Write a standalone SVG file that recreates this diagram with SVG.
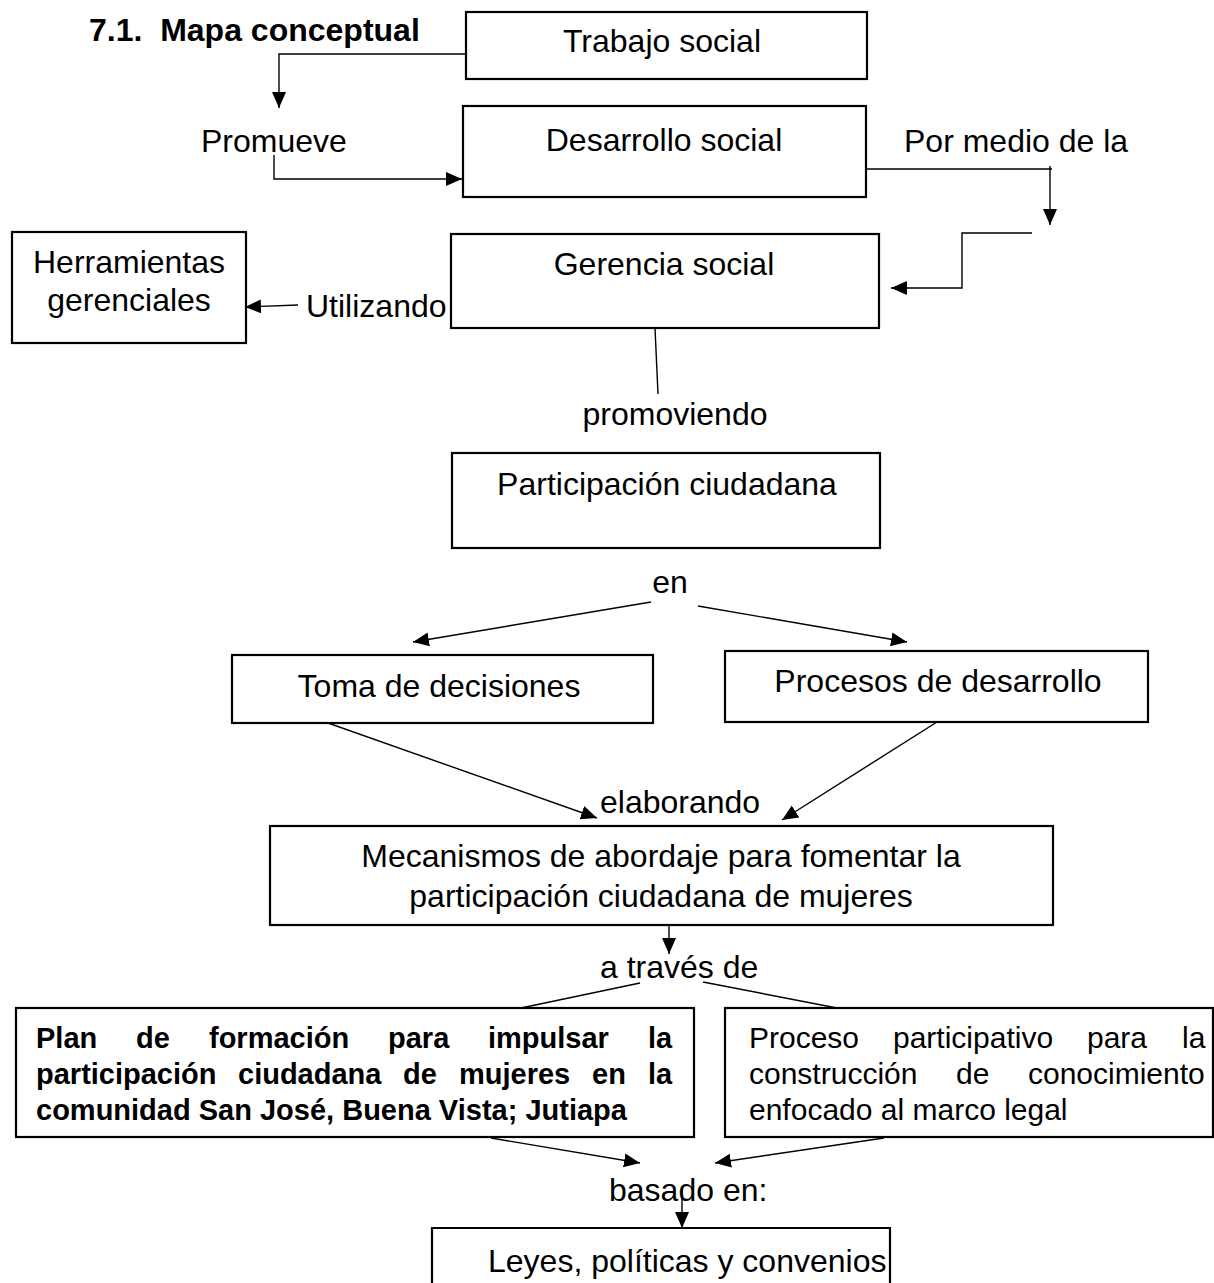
<svg xmlns="http://www.w3.org/2000/svg" width="1214" height="1283" viewBox="0 0 1214 1283">
<defs>
<style>
text{font-family:"Liberation Sans",Arial,sans-serif;fill:#000}
.t{font-size:32px}
.c{text-anchor:middle}
.b{font-weight:bold}
.s{font-size:29px}
.box{fill:#fff;stroke:#000;stroke-width:2.2}
.ln{fill:none;stroke:#000;stroke-width:1.4}
</style>
<marker id="ah" markerUnits="userSpaceOnUse" markerWidth="17" markerHeight="16" refX="16" refY="7" orient="auto">
<path d="M0,0 L16,7 L0,14 z" fill="#000"/>
</marker>
</defs>
<rect width="1214" height="1283" fill="#fff"/>
<text id="title" class="t b" x="89" y="41" xml:space="preserve">7.1.  Mapa conceptual</text>

<g id="trabajo"><rect class="box" x="466" y="12" width="401" height="67"/><text class="t c" x="662" y="52">Trabajo social</text></g>
<g id="desarrollo"><rect class="box" x="463" y="106" width="403" height="91"/><text class="t c" x="664" y="151">Desarrollo social</text></g>
<g id="gerencia"><rect class="box" x="451" y="234" width="428" height="94"/><text class="t c" x="664" y="275">Gerencia social</text></g>
<g id="herramientas"><rect class="box" x="12" y="232" width="234" height="111"/><text class="t c" x="129" y="273">Herramientas</text><text class="t c" x="129" y="311">gerenciales</text></g>
<g id="participacion"><rect class="box" x="452" y="453" width="428" height="95"/><text class="t c" x="667" y="495">Participación ciudadana</text></g>
<g id="toma"><rect class="box" x="232" y="655" width="421" height="68"/><text class="t c" x="439" y="697">Toma de decisiones</text></g>
<g id="procesos"><rect class="box" x="725" y="651" width="423" height="71"/><text class="t c" x="938" y="692">Procesos de desarrollo</text></g>
<g id="mecanismos"><rect class="box" x="270" y="826" width="783" height="99"/><text class="t c" x="661" y="867">Mecanismos de abordaje para fomentar la</text><text class="t c" x="661" y="907">participación ciudadana de mujeres</text></g>
<g id="plan"><rect class="box" x="16" y="1008" width="678" height="129"/>
<text class="s b" y="1048"><tspan x="36">Plan</tspan><tspan x="136">de</tspan><tspan x="209">formación</tspan><tspan x="388">para</tspan><tspan x="488">impulsar</tspan><tspan x="648">la</tspan></text>
<text class="s b" y="1084"><tspan x="36">participación</tspan><tspan x="238">ciudadana</tspan><tspan x="403">de</tspan><tspan x="459">mujeres</tspan><tspan x="592">en</tspan><tspan x="648">la</tspan></text>
<text class="s b" x="36" y="1120">comunidad San José, Buena Vista; Jutiapa</text></g>
<g id="proceso"><rect class="box" x="725" y="1008" width="488" height="129"/>
<text class="s" style="font-size:30px" y="1048"><tspan x="749">Proceso</tspan><tspan x="893">participativo</tspan><tspan x="1087">para</tspan><tspan x="1182">la</tspan></text>
<text class="s" style="font-size:30px" y="1084"><tspan x="749">construcción</tspan><tspan x="956">de</tspan><tspan x="1028">conocimiento</tspan></text>
<text class="s" style="font-size:30px" x="749" y="1120">enfocado al marco legal</text></g>
<g id="leyes"><path class="box" d="M432,1283 V1228 H890 V1283"/><text class="t" x="488" y="1272">Leyes, políticas y convenios</text></g>

<g id="labels">
<text class="t" x="201" y="152">Promueve</text>
<text class="t" x="904" y="152">Por medio de la</text>
<text class="t" x="306" y="317">Utilizando</text>
<text class="t c" x="675" y="425">promoviendo</text>
<text class="t c" x="670" y="593">en</text>
<text class="t" x="600" y="813">elaborando</text>
<text class="t" x="600" y="978">a través de</text>
<text class="t" x="609" y="1201">basado en:</text>
</g>

<g id="connectors">
<polyline class="ln" points="466,54 279,54 279,108" marker-end="url(#ah)"/>
<polyline class="ln" points="274,155 274,179 462,179" marker-end="url(#ah)"/>
<line class="ln" x1="867" y1="169" x2="1052" y2="169"/>
<line class="ln" x1="1050" y1="166" x2="1050" y2="225" marker-end="url(#ah)"/>
<polyline class="ln" points="1032,233 962,233 962,288 891,288" marker-end="url(#ah)"/>
<line class="ln" x1="298" y1="305" x2="245" y2="307" marker-end="url(#ah)"/>
<line class="ln" x1="655" y1="328" x2="658" y2="394"/>
<line class="ln" x1="651" y1="602" x2="413" y2="642" marker-end="url(#ah)"/>
<line class="ln" x1="698" y1="606" x2="907" y2="642" marker-end="url(#ah)"/>
<line class="ln" x1="328" y1="723" x2="597" y2="818" marker-end="url(#ah)"/>
<line class="ln" x1="937" y1="722" x2="782" y2="820" marker-end="url(#ah)"/>
<line class="ln" x1="669" y1="925" x2="669" y2="954" marker-end="url(#ah)"/>
<line class="ln" x1="640" y1="983" x2="521" y2="1008"/>
<line class="ln" x1="703" y1="982" x2="837" y2="1008"/>
<line class="ln" x1="491" y1="1138" x2="640" y2="1163" marker-end="url(#ah)"/>
<line class="ln" x1="884" y1="1138" x2="715" y2="1163" marker-end="url(#ah)"/>
<line class="ln" x1="682" y1="1190" x2="682" y2="1228" marker-end="url(#ah)"/>
</g>
</svg>
